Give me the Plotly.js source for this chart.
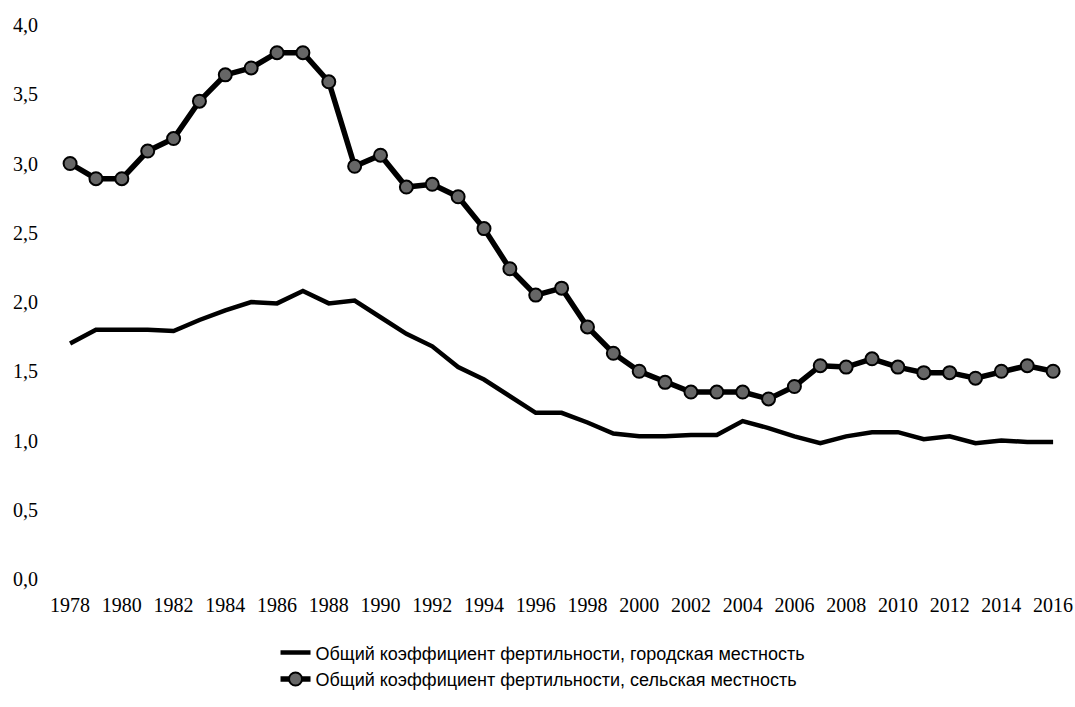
<!DOCTYPE html>
<html>
<head>
<meta charset="utf-8">
<script src="https://cdn.plot.ly/plotly-3.0.1.min.js"></script>
<style>html,body{margin:0;padding:0;background:#fff;}#chart{width:1075px;height:707px;}</style>
</head>
<body>
<div id="chart"></div>
<script>
const years = [1978,1979,1980,1981,1982,1983,1984,1985,1986,1987,1988,1989,1990,1991,1992,1993,1994,1995,1996,1997,1998,1999,2000,2001,2002,2003,2004,2005,2006,2007,2008,2009,2010,2011,2012,2013,2014,2015,2016];
const urban = [1.70,1.80,1.80,1.80,1.79,1.87,1.94,2.00,1.99,2.08,1.99,2.01,1.89,1.77,1.68,1.53,1.44,1.32,1.20,1.20,1.13,1.05,1.03,1.03,1.04,1.04,1.14,1.09,1.03,0.98,1.03,1.06,1.06,1.01,1.03,0.98,1.00,0.99,0.99];
const rural = [3.00,2.89,2.89,3.09,3.18,3.45,3.64,3.69,3.80,3.80,3.59,2.98,3.06,2.83,2.85,2.76,2.53,2.24,2.05,2.10,1.82,1.63,1.50,1.42,1.35,1.35,1.35,1.30,1.39,1.54,1.53,1.59,1.53,1.49,1.49,1.45,1.50,1.54,1.50];
const tickYears = [1978,1980,1982,1984,1986,1988,1990,1992,1994,1996,1998,2000,2002,2004,2006,2008,2010,2012,2014,2016];
const yTicks = [0,0.5,1.0,1.5,2.0,2.5,3.0,3.5,4.0];
const seriesNames = ['Общий коэффициент фертильности, городская местность','Общий коэффициент фертильности, сельская местность'];

const traces = [
  {x: years, y: urban, name: seriesNames[0], type: 'scatter', mode: 'lines',
   line: {color: '#000', width: 4.5}},
  {x: years, y: rural, name: seriesNames[1], type: 'scatter', mode: 'lines+markers',
   line: {color: '#000', width: 5.5},
   marker: {size: 13, color: '#666', line: {color: '#000', width: 2}}}
];

const layout = {
  width: 1075, height: 707,
  margin: {l: 45, r: 10, t: 25, b: 122},
  paper_bgcolor: '#fff', plot_bgcolor: '#fff',
  separators: ', ',
  showlegend: true,
  xaxis: {
    range: [1977.03, 2016.46],
    tickmode: 'array', tickvals: tickYears, ticktext: tickYears.map(String),
    showgrid: false, zeroline: false, showline: false, ticks: '',
    tickfont: {family: 'Liberation Serif, serif', size: 20, color: '#000'},
    ticklabelstandoff: 12
  },
  yaxis: {
    range: [0, 4.0],
    tickmode: 'array', tickvals: yTicks, ticktext: yTicks.map(v => v.toFixed(1).replace('.', ',')),
    showgrid: false, zeroline: false, showline: false, ticks: '',
    tickfont: {family: 'Liberation Serif, serif', size: 20, color: '#000'},
    ticklabelstandoff: 6
  },
  legend: {
    orientation: 'v', x: 0.226, xanchor: 'left', y: -0.1, yanchor: 'top',
    font: {family: 'Liberation Sans, Arial, sans-serif', size: 18, color: '#000'},
    tracegroupgap: 0, itemwidth: 30, bgcolor: 'rgba(0,0,0,0)'
  }
};

Plotly.newPlot('chart', traces, layout, {displayModeBar: false, staticPlot: true});
</script>
</body>
</html>
